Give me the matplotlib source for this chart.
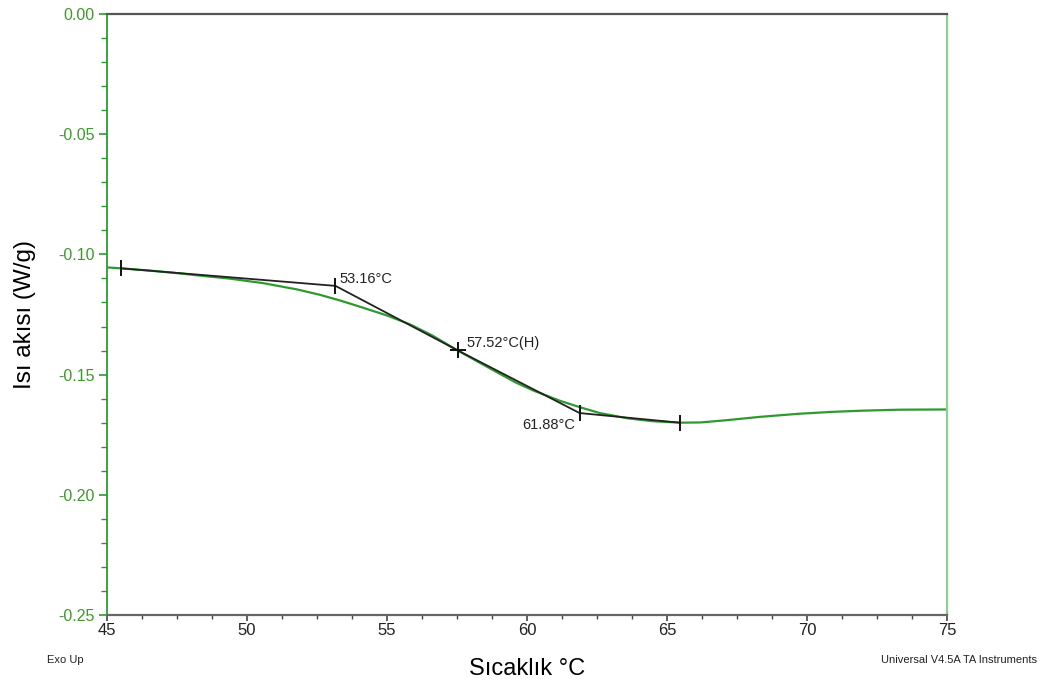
import matplotlib
matplotlib.use("Agg")
import matplotlib.pyplot as plt
from matplotlib.ticker import MultipleLocator, FormatStrFormatter

# DSC heat-flow curve
temp = [45.0, 45.5, 46.5, 47.5, 48.3, 49.4, 50.6, 51.8, 52.6, 53.3, 53.8, 55.0, 55.8,
        56.6, 57.5, 58.3, 59.0, 59.6, 60.2, 60.8, 61.2, 61.9, 62.6, 63.6, 64.5, 65.5,
        66.2, 67.1, 68.3, 69.7, 70.9, 72.0, 73.3, 75.0]
heat_flow = [-0.1054, -0.1058, -0.1067, -0.1078, -0.1088, -0.1101, -0.1120, -0.1146,
             -0.1168, -0.1191, -0.1209, -0.1254, -0.1290, -0.1336, -0.1398, -0.1450,
             -0.1495, -0.1533, -0.1565, -0.1592, -0.1610, -0.1636, -0.1660, -0.1682,
             -0.1694, -0.1700, -0.1699, -0.1690, -0.1676, -0.1663, -0.1655, -0.1650,
             -0.1646, -0.1645]

# glass transition construction (onset, midpoint, end)
tg_temp = [45.5, 53.16, 57.52, 61.88, 65.45]
tg_flow = [-0.1058, -0.1131, -0.1399, -0.1660, -0.1700]
tg_labels = ["53.16°C", "57.52°C(H)", "61.88°C"]

plt.rcParams["font.family"] = ["Liberation Sans", "DejaVu Sans"]

GREEN = "#2e9a2e"

fig = plt.figure(figsize=(10.44, 6.86), dpi=100)
ax = fig.add_axes([0.1025, 0.1035, 0.8046, 0.8761])

ax.plot(temp, heat_flow, color=GREEN, lw=1.6, zorder=2)
ax.plot(tg_temp, tg_flow, color="#222222", lw=1.3, zorder=3)
for i, (t, f) in enumerate(zip(tg_temp, tg_flow)):
    mk = "+" if i == 2 else "|"
    ax.plot(t, f, marker=mk, color="#111111", ms=12, mew=1.4, zorder=4)

ax.text(tg_temp[1] + 0.15, tg_flow[1] + 0.0012, tg_labels[0], fontsize=10.5, color="#222222")
ax.text(tg_temp[2] + 0.3, tg_flow[2] + 0.0012, tg_labels[1], fontsize=10.5, color="#222222")
ax.text(tg_temp[3] - 0.15, tg_flow[3] - 0.0068, tg_labels[2], fontsize=10.5, color="#222222",
        ha="right")

ax.set_xlim(45, 75)
ax.set_ylim(-0.25, 0.0)
ax.xaxis.set_major_locator(MultipleLocator(5))
ax.xaxis.set_minor_locator(MultipleLocator(1.25))
ax.yaxis.set_major_locator(MultipleLocator(0.05))
ax.yaxis.set_minor_locator(MultipleLocator(0.01))
ax.yaxis.set_major_formatter(FormatStrFormatter("%.2f"))

ax.spines["left"].set_color(GREEN)
ax.spines["left"].set_linewidth(1.3)
ax.spines["right"].set_color("#8fd08f")
ax.spines["right"].set_linewidth(1.6)
ax.spines["top"].set_color("#555555")
ax.spines["top"].set_linewidth(1.6)
ax.spines["bottom"].set_color("#666666")
ax.spines["bottom"].set_linewidth(1.6)

ax.tick_params(axis="y", which="major", direction="out", length=6, width=1.2,
               color=GREEN, labelcolor="#3c9a2a", labelsize=11.5, pad=3)
ax.tick_params(axis="y", which="minor", direction="out", length=4, width=1.0, color=GREEN)
ax.tick_params(axis="x", which="major", direction="out", length=4, width=1.2,
               color="#444444", labelcolor="#222222", labelsize=12, pad=2)
ax.tick_params(axis="x", which="minor", direction="out", length=3, width=1.0, color="#444444")

ax.set_xlabel("Sıcaklık °C", fontsize=17, labelpad=14)
ax.set_ylabel("Isı akısı (W/g)", fontsize=17.5, labelpad=16)

fig.text(0.045, 0.033, "Exo Up", fontsize=8, color="#222222")
fig.text(0.993, 0.033, "Universal V4.5A TA Instruments", fontsize=8, color="#222222", ha="right")

fig.savefig("out.png", dpi=100)
